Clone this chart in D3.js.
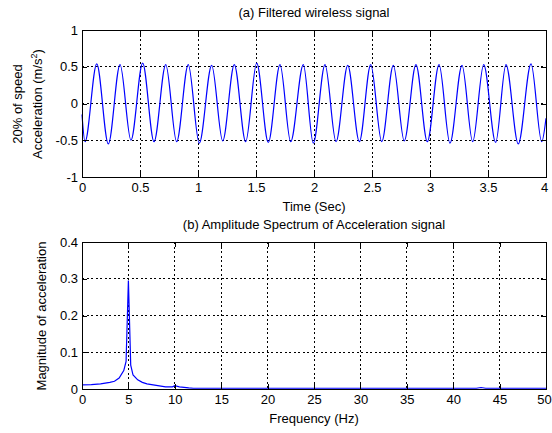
<!DOCTYPE html>
<html>
<head>
<meta charset="utf-8">
<script src="https://cdn.jsdelivr.net/npm/d3@7"></script>
<style>
    body { margin: 0; background: #fff; }
    svg text { font-family: "Liberation Sans", Arial, sans-serif; fill: #000; }
</style>
</head>
<body>
<div id="chart"></div>
<script>
// (a) filtered signal: start, alternating troughs / peaks, end
const sigTime = [
    0, 0.026, 0.127, 0.227, 0.328, 0.422, 0.523, 0.621, 0.722, 0.816, 0.916,
    1.011, 1.118, 1.213, 1.313, 1.411, 1.506, 1.606, 1.707, 1.799, 1.908,
    1.994, 2.095, 2.19, 2.291, 2.391, 2.489, 2.584, 2.684, 2.778, 2.879,
    2.977, 3.078, 3.172, 3.276, 3.368, 3.463, 3.566, 3.655, 3.761, 3.871,
    3.963, 4.0,
];
const sigValue = [
    -0.15, -0.52, 0.54, -0.55, 0.53, -0.5, 0.55, -0.52, 0.53, -0.52, 0.53,
    -0.54, 0.52, -0.51, 0.53, -0.52, 0.55, -0.53, 0.53, -0.52, 0.53,
    -0.54, 0.53, -0.52, 0.52, -0.52, 0.53, -0.52, 0.52, -0.51, 0.53,
    -0.52, 0.53, -0.54, 0.52, -0.52, 0.53, -0.53, 0.53, -0.55, 0.54,
    -0.52, -0.2,
];

// (b) amplitude spectrum
const specFreq = [
    0, 1, 2, 3, 3.5, 4, 4.5, 4.75, 5, 5.25, 5.5, 6, 6.5, 7, 8, 9, 9.75, 10,
    10.5, 11.5, 12, 20, 30, 42.5, 43, 43.5, 50,
];
const specMag = [
    0.011, 0.012, 0.014, 0.018, 0.021, 0.03, 0.05, 0.075, 0.295, 0.065, 0.038,
    0.025, 0.018, 0.014, 0.01, 0.006, 0.006, 0.009, 0.006, 0.003, 0.002,
    0.002, 0.002, 0.002, 0.004, 0.002, 0.002,
];

const timeTicks = [0, 0.5, 1, 1.5, 2, 2.5, 3, 3.5, 4];
const accTicks = [-1, -0.5, 0, 0.5, 1];
const freqTicks = [0, 5, 10, 15, 20, 25, 30, 35, 40, 45, 50];
const magTicks = [0, 0.1, 0.2, 0.3, 0.4];

const width = 552;
const height = 433;
const fontSize = 13;

const svg = d3.select("#chart").append("svg").attr("width", width).attr("height", height);

function drawPanel(opts) {
    const x = d3.scaleLinear().domain(opts.xDomain).range([82, 546]);
    const y = d3.scaleLinear().domain(opts.yDomain).range([opts.bottom, opts.top]);
    const g = svg.append("g");

    // dotted grid
    g.selectAll(".gx")
        .data(opts.xTicks.slice(1, -1))
        .join("line")
        .attr("x1", d => x(d))
        .attr("x2", d => x(d))
        .attr("y1", opts.top)
        .attr("y2", opts.bottom)
        .attr("stroke", "#000")
        .attr("stroke-width", 1)
        .attr("stroke-dasharray", "2,2.5")
        .attr("shape-rendering", "crispEdges");
    g.selectAll(".gy")
        .data(opts.yTicks.slice(1, -1))
        .join("line")
        .attr("x1", 82)
        .attr("x2", 546)
        .attr("y1", d => y(d))
        .attr("y2", d => y(d))
        .attr("stroke", "#000")
        .attr("stroke-width", 1)
        .attr("stroke-dasharray", "2,2.5")
        .attr("shape-rendering", "crispEdges");

    const line = d3
        .line()
        .x((d, i) => x(opts.xs[i]))
        .y(d => y(d))
        .curve(opts.curve);
    g.append("path")
        .attr("d", line(opts.ys))
        .attr("fill", "none")
        .attr("stroke", "#0000ff")
        .attr("stroke-width", 1.2);

    // axes box with inward ticks on all sides
    const tick = 5;
    const xAxis = g.append("g")
        .attr("transform", `translate(0,${opts.bottom})`)
        .call(d3.axisBottom(x).tickValues(opts.xTicks).tickSizeInner(-tick).tickSizeOuter(0).tickPadding(6).tickFormat(opts.xFormat));
    // last label sits on the right edge, pull it in a touch
    xAxis.selectAll(".tick:last-of-type text").attr("dx", "-2");
    g.append("g")
        .attr("transform", `translate(0,${opts.top})`)
        .call(d3.axisTop(x).tickValues(opts.xTicks).tickSizeInner(-tick).tickSizeOuter(0).tickFormat(""));
    g.append("g")
        .attr("transform", "translate(82,0)")
        .call(d3.axisLeft(y).tickValues(opts.yTicks).tickSizeInner(-tick).tickSizeOuter(0).tickPadding(4).tickFormat(opts.yFormat));
    g.append("g")
        .attr("transform", "translate(546,0)")
        .call(d3.axisRight(y).tickValues(opts.yTicks).tickSizeInner(-tick).tickSizeOuter(0).tickFormat(""));

    g.selectAll(".domain").attr("stroke", "#000").attr("shape-rendering", "crispEdges");
    g.selectAll(".tick line").attr("stroke", "#000").attr("shape-rendering", "crispEdges");
    g.selectAll(".tick text").attr("font-size", fontSize).attr("font-family", "Liberation Sans, Arial, sans-serif").attr("fill", "#000");

    g.append("text")
        .attr("x", 314)
        .attr("y", opts.top - 13)
        .attr("text-anchor", "middle")
        .attr("font-size", fontSize)
        .text(opts.title);
    g.append("text")
        .attr("x", 314)
        .attr("y", opts.bottom + 34)
        .attr("text-anchor", "middle")
        .attr("font-size", fontSize)
        .text(opts.xLabel);
    return g;
}

const fmt = d => (d === 0 ? "0" : String(d));

const panelA = drawPanel({
    xDomain: [0, 4],
    yDomain: [-1, 1],
    top: 30,
    bottom: 177,
    xTicks: timeTicks,
    yTicks: accTicks,
    xFormat: fmt,
    yFormat: fmt,
    xs: sigTime,
    ys: sigValue,
    curve: d3.curveMonotoneX,
    title: "(a) Filtered wireless signal",
    xLabel: "Time (Sec)",
});

panelA.append("text")
    .attr("transform", "translate(22,104) rotate(-90)")
    .attr("text-anchor", "middle")
    .attr("font-size", fontSize)
    .text("20% of speed");
const yl2 = panelA.append("text")
    .attr("transform", "translate(42,104) rotate(-90)")
    .attr("text-anchor", "middle")
    .attr("font-size", fontSize);
yl2.append("tspan").text("Acceleration (m/s");
yl2.append("tspan").attr("dy", -5).attr("font-size", 9).text("2");
yl2.append("tspan").attr("dy", 5).text(")");

const panelB = drawPanel({
    xDomain: [0, 50],
    yDomain: [0, 0.4],
    top: 242,
    bottom: 389,
    xTicks: freqTicks,
    yTicks: magTicks,
    xFormat: fmt,
    yFormat: fmt,
    xs: specFreq,
    ys: specMag,
    curve: d3.curveLinear,
    title: "(b) Amplitude Spectrum of Acceleration signal",
    xLabel: "Frequency (Hz)",
});

panelB.append("text")
    .attr("transform", "translate(46,316) rotate(-90)")
    .attr("text-anchor", "middle")
    .attr("font-size", fontSize)
    .text("Magnitude of acceleration");
</script>
</body>
</html>
